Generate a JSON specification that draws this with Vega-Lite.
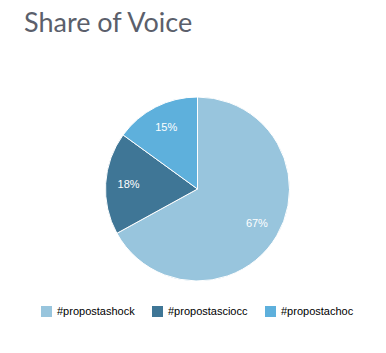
{
  "$schema": "https://vega.github.io/schema/vega-lite/v6.json",
  "width": 377,
  "height": 274,
  "autosize": "none",
  "padding": {"left": 9, "top": 52, "right": 0, "bottom": 0},
  "background": "white",
  "title": {
    "text": "Share of Voice",
    "anchor": "start",
    "frame": "group",
    "orient": "top",
    "baseline": "alphabetic",
    "offset": -7,
    "dx": 15,
    "font": "Lato",
    "fontSize": 27,
    "fontWeight": "normal",
    "color": "#5b5f6b"
  },
  "data": {
    "values": [
      {"tag": "#propostashock", "share": 0.67, "ord": 1},
      {"tag": "#propostasciocc", "share": 0.18, "ord": 2},
      {"tag": "#propostachoc", "share": 0.15, "ord": 3}
    ]
  },
  "encoding": {
    "theta": {"field": "share", "type": "quantitative", "stack": true},
    "order": {"field": "ord", "type": "quantitative"},
    "color": {
      "field": "tag",
      "type": "nominal",
      "scale": {
        "domain": ["#propostashock", "#propostasciocc", "#propostachoc"],
        "range": ["#98c5dd", "#3f7696", "#5eb0dc"]
      },
      "legend": {
        "title": null,
        "orient": "none",
        "direction": "horizontal",
        "legendX": 32,
        "legendY": 254,
        "padding": 0,
        "symbolType": "square",
        "symbolSize": 121,
        "symbolStrokeWidth": 0,
        "symbolOpacity": 1,
        "labelFont": "Liberation Sans",
        "labelFontSize": 11,
        "labelColor": "#000000",
        "labelOffset": 5,
        "columnPadding": 17
      }
    }
  },
  "layer": [
    {"mark": {"type": "arc", "radius": 92, "stroke": "white", "strokeWidth": 1}},
    {
      "mark": {"type": "text", "radius": 69, "font": "Liberation Sans", "fontSize": 11, "fill": "white"},
      "encoding": {
        "text": {"field": "share", "type": "quantitative", "format": ".0%"},
        "color": {"value": "white"}
      }
    }
  ]
}
